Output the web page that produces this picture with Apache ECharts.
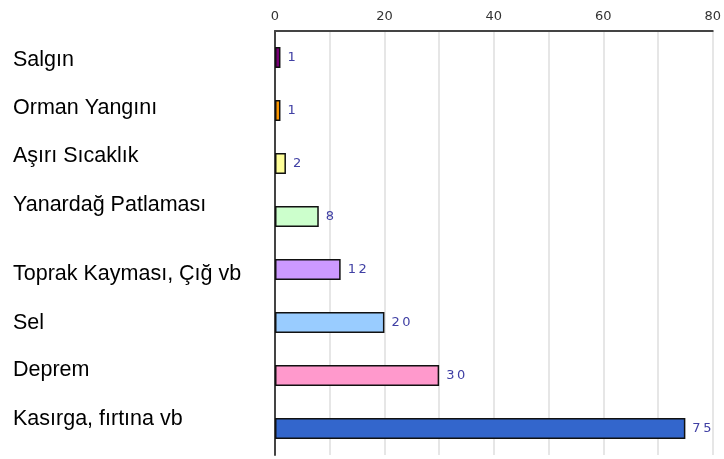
<!DOCTYPE html>
<html>
<head>
<meta charset="utf-8">
<script src="https://cdn.jsdelivr.net/npm/echarts@6/dist/echarts.min.js"></script>
<style>
  html, body { margin: 0; padding: 0; background: #fff; }
  #chart { width: 724px; height: 459px; }
</style>
</head>
<body>
<div id="chart"></div>
<script>
// Disaster types and number of occurrences
const categories = [
  'Salgın',
  'Orman Yangını',
  'Aşırı Sıcaklık',
  'Yanardağ Patlaması',
  'Toprak Kayması, Çığ vb',
  'Sel',
  'Deprem',
  'Kasırga, fırtına vb'
];
const values = [1, 1, 2, 8, 12, 20, 30, 75];
const barColors = ['#7a0077', '#ff9900', '#ffff99', '#ccffcc', '#cc99ff', '#99ccff', '#ff99cc', '#3366cc'];
const tickLabels = ['0', '20', '40', '60', '80'];

// Vertical nudge (px) of each category name relative to its bar row
const labelNudge = [3, -2, -7, -11, 5, 1, -5, -9];

const rich = {};
labelNudge.forEach(function (n, i) {
  rich['c' + i] = {
    fontFamily: 'Liberation Sans, Arial',
    fontSize: 21.5,
    color: '#000',
    padding: n >= 0 ? [2 * n, 0, 0, 0] : [0, 0, -2 * n, 0]
  };
});

const chart = echarts.init(document.getElementById('chart'));

chart.setOption({
  animation: false,
  grid: { left: 275, right: 10, top: 31, bottom: 4, containLabel: false },
  xAxis: {
    type: 'value',
    position: 'top',
    min: 0,
    max: 80,
    interval: 10,
    axisLine: { show: true, lineStyle: { color: '#444', width: 2 } },
    axisTick: { show: false },
    axisLabel: {
      margin: 8,
      color: '#333',
      fontFamily: 'DejaVu Sans',
      fontSize: 13,
      formatter: function (v) {
        return tickLabels.indexOf(String(v)) >= 0 ? String(v) : '';
      }
    },
    splitLine: { show: true, lineStyle: { color: '#dedede', width: 1.5 } }
  },
  yAxis: {
    type: 'category',
    data: categories,
    inverse: true,
    axisLine: { show: true, onZero: false, lineStyle: { color: '#444', width: 2 } },
    axisTick: { show: false },
    axisLabel: {
      align: 'left',
      margin: 262,
      color: '#000',
      fontFamily: 'Liberation Sans, Arial',
      fontSize: 21.5,
      formatter: function (v, i) {
        return '{c' + i + '|' + v + '}';
      },
      rich: rich
    },
    splitLine: { show: false }
  },
  series: [{
    type: 'bar',
    barWidth: 21,
    data: values.map(function (v, i) {
      return {
        value: v,
        itemStyle: { color: barColors[i], borderColor: '#111', borderWidth: 1.5 }
      };
    }),
    label: {
      show: true,
      position: 'right',
      distance: 7,
      color: '#4040a4',
      fontFamily: 'DejaVu Sans',
      fontSize: 13,
      formatter: function (p) {
        return String(p.value).split('').join('\u2009');
      }
    }
  }]
});
</script>
</body>
</html>
